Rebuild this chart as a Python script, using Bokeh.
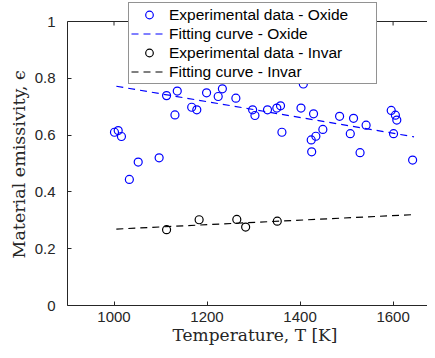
import math
from bokeh.plotting import figure
from bokeh.models import (FixedTicker, NumeralTickFormatter, Legend, LegendItem,
                          Range1d, Span, Title)
from bokeh.embed import file_html
from bokeh.resources import INLINE

# ---- data ----
oxide_T = [1001, 1009, 1016, 1033, 1052, 1097, 1113, 1131, 1136, 1167, 1178, 1199,
           1224, 1233, 1262, 1298, 1303, 1330, 1350, 1358, 1361, 1402, 1407, 1424,
           1425, 1429, 1434, 1449, 1485, 1508, 1515, 1529, 1542, 1596, 1601, 1605,
           1608, 1642]
oxide_eps = [0.610, 0.616, 0.595, 0.444, 0.505, 0.520, 0.739, 0.671, 0.755, 0.698,
             0.689, 0.749, 0.736, 0.763, 0.730, 0.689, 0.669, 0.689, 0.695, 0.703,
             0.610, 0.695, 0.780, 0.583, 0.541, 0.675, 0.596, 0.620, 0.666, 0.605,
             0.659, 0.538, 0.635, 0.687, 0.605, 0.670, 0.653, 0.512]
invar_T = [1113, 1183, 1264, 1283, 1351]
invar_eps = [0.267, 0.302, 0.303, 0.276, 0.297]
fit_T = [1005, 1645]
fit_oxide = [0.772, 0.594]
fit_invar = [0.269, 0.320]
x_ticks = [1000, 1200, 1400, 1600]
y_ticks = [0, 0.2, 0.4, 0.6, 0.8, 1]
labels = ["Experimental data - Oxide", "Fitting curve - Oxide",
          "Experimental data - Invar", "Fitting curve - Invar"]
x_label = "Temperature, T [K]"
y_label = "Material emissivity, ϵ"

DARK = "#262626"
BLUE = "#0000ff"

# frame reaches the top of the canvas so the legend can sit above the y=1 box line
H, BOTTOM = 350, 45
PX_PER_UNIT = 284
Y_TOP = (H - BOTTOM) / PX_PER_UNIT

p = figure(width=427, height=H, output_backend="svg", toolbar_location=None,
           x_range=Range1d(900, 1674), y_range=Range1d(0, Y_TOP),
           min_border_left=67, min_border_right=0, min_border_top=0,
           min_border_bottom=BOTTOM, outline_line_color=None)
p.grid.visible = False

for ax in (p.xaxis[0], p.yaxis[0]):
    ax.major_tick_in = 4
    ax.major_tick_out = 0
    ax.minor_tick_line_color = None
    ax.axis_line_color = DARK
    ax.major_tick_line_color = DARK
    ax.major_label_text_color = DARK
    ax.major_label_text_font = "Liberation Sans"
    ax.major_label_text_font_size = "15px"

p.xaxis[0].ticker = FixedTicker(ticks=x_ticks)
p.yaxis[0].ticker = FixedTicker(ticks=y_ticks)
p.yaxis[0].bounds = (0, 1)
p.yaxis[0].formatter = NumeralTickFormatter(format="0.[0]")
p.xaxis[0].major_label_standoff = 6
p.yaxis[0].major_label_standoff = 12

# axis titles (serif, as in the reference), positioned along the 0..1 box
p.add_layout(Title(text=y_label, align="left", offset=47, vertical_align="bottom",
                   standoff=6, text_font="DejaVu Serif", text_font_size="17.5px",
                   text_font_style="normal", text_color=DARK), "left")
p.add_layout(Title(text=x_label, align="left", offset=105, vertical_align="top",
                   standoff=0, text_font="DejaVu Serif", text_font_size="17px",
                   text_font_style="normal", text_color=DARK), "below")

# top box line with inward ticks
p.add_layout(Span(location=1, dimension="width", line_color=DARK, line_width=1))
p.ray(x=x_ticks, y=[1] * len(x_ticks), length=4, length_units="screen",
      angle=-math.pi / 2, line_color=DARK, line_width=1)

r1 = p.scatter(oxide_T, oxide_eps, marker="circle", size=8, fill_color=None,
               line_color=BLUE, line_width=1.2)
r2 = p.line(fit_T, fit_oxide, line_color=BLUE, line_dash="7 5", line_width=1.2)
r3 = p.scatter(invar_T, invar_eps, marker="circle", size=8, fill_color=None,
               line_color="black", line_width=1.2)
r4 = p.line(fit_T, fit_invar, line_color="black", line_dash="7 5", line_width=1.2)

# legend-only proxies (smaller markers as in the reference legend), not drawn
nan = float("nan")
l1 = p.scatter([nan], [nan], marker="circle", size=6, fill_color=None,
               line_color=BLUE, line_width=1.2)
l3 = p.scatter([nan], [nan], marker="circle", size=6, fill_color=None,
               line_color="black", line_width=1.2)

legend = Legend(items=[
    LegendItem(label=labels[0], renderers=[l1]),
    LegendItem(label=labels[1], renderers=[r2]),
    LegendItem(label=labels[2], renderers=[l3]),
    LegendItem(label=labels[3], renderers=[r4]),
], location=(61, 221), label_text_font="Liberation Sans",
    label_text_font_size="15.5px", label_width=205,
    label_text_color="black", glyph_width=36, glyph_height=19, label_height=19,
    label_standoff=2, spacing=0, padding=2, margin=0,
    border_line_color=DARK, border_line_width=1, background_fill_alpha=1)
p.add_layout(legend, "center")

open("out.html", "w").write(file_html(p, INLINE))
